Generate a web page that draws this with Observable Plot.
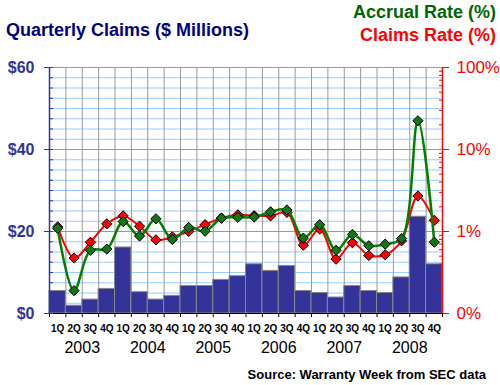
<!DOCTYPE html>
<html>
<head>
<meta charset="utf-8">
<script src="https://cdn.jsdelivr.net/npm/d3@7"></script>
<script src="https://cdn.jsdelivr.net/npm/@observablehq/plot@0.6"></script>
<style>
  body { margin: 0; background: #fff; }
  #wrap { position: relative; width: 500px; height: 385px; overflow: hidden; font-family: "Liberation Sans", Arial, sans-serif; }
  #wrap svg { position: absolute; left: 0; top: 0; }
  .t { position: absolute; font-weight: bold; white-space: nowrap; line-height: 1; }
</style>
</head>
<body>
<div id="wrap">
  <div class="t" style="left:6px; top:21px; font-size:18px; color:#000080;">Quarterly Claims ($ Millions)</div>
  <div class="t" style="right:4px; top:3px; font-size:18px; color:#006600;">Accrual Rate (%)</div>
  <div class="t" style="right:4px; top:26px; font-size:18px; color:#ff0000;">Claims Rate (%)</div>
  <div class="t" style="right:14px; top:368px; font-size:13px; color:#000;">Source: Warranty Week from SEC data</div>
</div>
<script>
const quarters = ["1Q", "2Q", "3Q", "4Q"];
const years = ["2003", "2004", "2005", "2006", "2007", "2008"];
// Quarterly claims, $ millions
const claims = [5.5, 1.9, 3.4, 6.0, 16.1, 5.2, 3.4, 4.3, 6.7, 6.7, 8.2, 9.1,
                12.0, 10.4, 11.6, 5.5, 5.0, 3.9, 6.7, 5.5, 5.0, 8.8, 23.6, 12.0];
// Claims rate, % (log scale)
const claimsRate = [1.14, 0.475, 0.74, 1.24, 1.55, 1.16, 0.79, 0.86, 1.0, 1.21, 1.46, 1.6,
                    1.56, 1.55, 1.71, 0.68, 1.07, 0.46, 0.73, 0.51, 0.52, 0.77, 2.71, 1.37];
// Accrual rate, % (log scale)
const accrualRate = [1.09, 0.19, 0.59, 0.61, 1.32, 0.88, 1.43, 0.80, 1.12, 1.01, 1.45, 1.49,
                     1.50, 1.74, 1.83, 0.83, 1.21, 0.59, 0.92, 0.67, 0.70, 0.82, 22.4, 0.74];
const leftTicks = [0, 20, 40, 60];
const rightTicks = [0.1, 1, 10, 100];

const data = years.flatMap((y, yi) => quarters.map((q, qi) => {
  const i = yi * 4 + qi;
  return {i, q, y, claims: claims[i], claimsRate: claimsRate[i], accrualRate: accrualRate[i]};
}));

const W = 500, H = 385;
const M = {marginTop: 67, marginBottom: 72, marginLeft: 49, marginRight: 58};
const font = '"Liberation Sans", Arial, sans-serif';
const minorDollar = d3.range(0, 60.01, 2.5).filter(v => v % 20 !== 0);
const minorLog = [0.1, 1, 10].flatMap(d => d3.range(2, 10).map(k => +(d * k).toPrecision(3)));

const p1 = Plot.plot({
  width: W, height: H, ...M,
  x: {domain: [0, 24], axis: null, label: null},
  y: {domain: [0, 60], label: null},
  style: {fontFamily: font, background: "transparent", overflow: "visible"},
  marks: [
    Plot.ruleY(minorDollar, {stroke: "#99ccff", strokeWidth: 1}),
    Plot.ruleY([20, 40, 60], {stroke: "#999", strokeWidth: 1}),
    Plot.ruleX(d3.range(1, 24), {y1: 0, y2: 60, stroke: "#999", strokeWidth: 1}),
    Plot.rectY(data, {x1: d => d.i, x2: d => d.i + 1, y: "claims", fill: "#333399", stroke: "#888", strokeWidth: 1}),
    Plot.ruleX(d3.range(0, 25), {y1: 0, y2: -1, stroke: "#000", strokeWidth: 1}),
    Plot.ruleY([0], {stroke: "#000", strokeWidth: 1}),
    Plot.ruleX([0], {y1: 0, y2: 60, stroke: "#333399", strokeWidth: 1.5}),
    Plot.text(data, {x: d => d.i + 0.5, text: "q", frameAnchor: "bottom", lineAnchor: "middle", dy: 15, fontSize: 10, fontWeight: "bold", fill: "#000"}),
    Plot.text(years, {x: (d, i) => i * 4 + 2, text: d => d, frameAnchor: "bottom", lineAnchor: "middle", dy: 34, fontSize: 16, fill: "#000"}),
    Plot.axisY({ticks: minorDollar, tickSize: 4, dx: 4, tickFormat: () => "", label: null, stroke: "#333399"}),
    Plot.axisY({ticks: leftTicks, tickSize: 9, dx: 4, tickPadding: 10, tickFormat: d => "$" + d, label: null,
                fontSize: 16, fontWeight: "bold", fill: "#333399", stroke: "#333399"})
  ]
});

const p2 = Plot.plot({
  width: W, height: H, ...M,
  x: {domain: [0, 24], axis: null, label: null},
  y: {type: "log", domain: [0.1, 100], label: null},
  style: {fontFamily: font, background: "transparent", overflow: "visible"},
  marks: [
    Plot.ruleX([24], {y1: 0.1, y2: 100, stroke: "#ff0000", strokeWidth: 1.5}),
    Plot.axisY({anchor: "right", ticks: minorLog, tickSize: 4, dx: -4, tickFormat: () => "", label: null, stroke: "#ff0000"}),
    Plot.axisY({anchor: "right", ticks: rightTicks, tickSize: 6, tickPadding: 8, label: null,
                tickFormat: d => (d === 0.1 ? 0 : d) + "%", fontSize: 17, fill: "#ff0000", stroke: "#ff0000"}),
    Plot.line(data, {x: d => d.i + 0.5, y: "claimsRate", curve: "catmull-rom", stroke: "#ff0000", strokeWidth: 2}),
    Plot.dot(data, {x: d => d.i + 0.5, y: "claimsRate", symbol: "diamond2", r: 4.6, fill: "#ff0000", stroke: "#000", strokeWidth: 1}),
    Plot.line(data, {x: d => d.i + 0.5, y: "accrualRate", curve: "catmull-rom", stroke: "#008000", strokeWidth: 2.5}),
    Plot.dot(data, {x: d => d.i + 0.5, y: "accrualRate", symbol: "diamond2", r: 4.6, fill: "#117711", stroke: "#000", strokeWidth: 1})
  ]
});

const wrap = document.getElementById("wrap");
wrap.insertBefore(p2, wrap.firstChild);
wrap.insertBefore(p1, wrap.firstChild);
</script>
</body>
</html>
